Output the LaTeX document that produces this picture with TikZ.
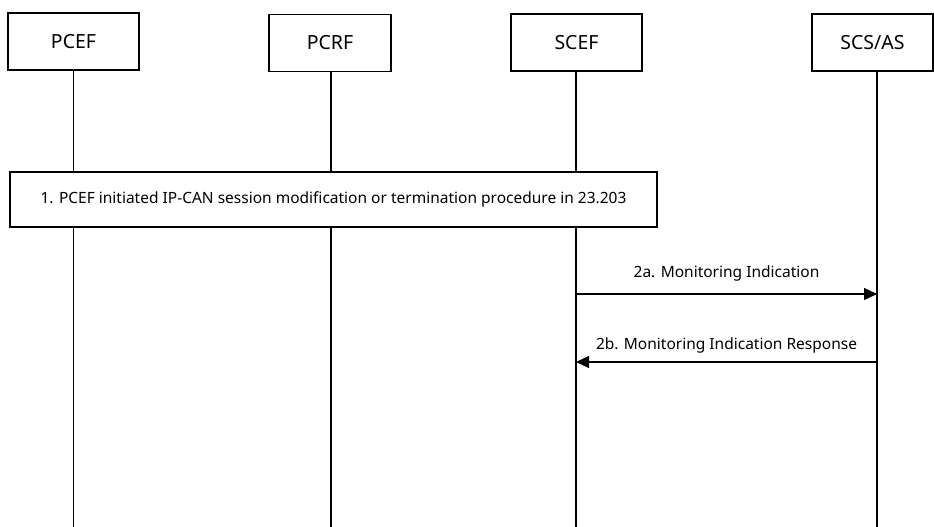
\documentclass[tikz,border=0pt]{standalone}
\usepackage{fontspec}
\setmainfont{Noto Sans}
\usetikzlibrary{arrows.meta}
\begin{document}
\begin{tikzpicture}[x=1pt,y=-1pt,
  entity/.style={draw,line width=1.3pt,fill=white,minimum height=57pt,inner sep=0pt,font=\fontsize{19.5}{22}\selectfont},
  life/.style={line width=1.4pt},
  actionbox/.style={draw,line width=1.3pt,fill=white,minimum width=647pt,minimum height=55pt,inner sep=0pt,font=\fontsize{15.5}{18}\selectfont},
  msg/.style={line width=1.3pt,-{Triangle[length=13pt,width=12pt]}},
  msglabel/.style={font=\fontsize{15.5}{18}\selectfont,inner sep=0pt}]
\useasboundingbox (0,0) rectangle (934,527);
\node[entity,minimum width=131pt] (pcef) at (73.5,41.5) {PCEF};
\node[entity,minimum width=122pt] (pcrf) at (330,43) {PCRF};
\node[entity,minimum width=131pt] (scef) at (576.5,42.5) {SCEF};
\node[entity,minimum width=121pt] (scs) at (872.5,42.5) {SCS/AS};
\coordinate (l1) at (73.5,527);
\coordinate (l2) at (331,527);
\coordinate (l3) at (576,527);
\coordinate (l4) at (877,527);
\draw[life] (l1 |- pcef.south) -- (l1);
\draw[life] (l2 |- pcrf.south) -- (l2);
\draw[life] (l3 |- scef.south) -- (l3);
\draw[life] (l4 |- scs.south) -- (l4);
\node[actionbox] (act) at (333.5,199.5) {1. PCEF initiated IP-CAN session modification or termination procedure in 23.203};
\coordinate (a2a) at (0,294);
\coordinate (a2b) at (0,362);
\draw[msg] (l3 |- a2a) -- node[msglabel,above=12pt] (t2a) {2a. Monitoring Indication} (l4 |- a2a);
\draw[msg] (l4 |- a2b) -- node[msglabel,above=8pt] (t2b) {2b. Monitoring Indication Response} (l3 |- a2b);
\end{tikzpicture}
\end{document}
